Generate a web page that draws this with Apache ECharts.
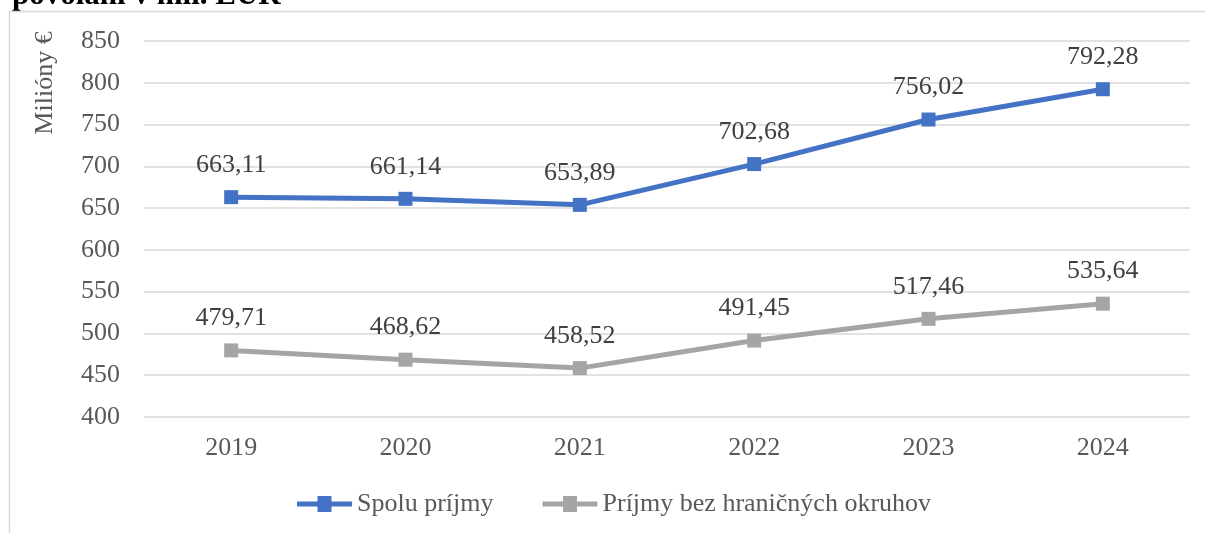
<!DOCTYPE html>
<html>
<head>
<meta charset="utf-8">
<script src="https://cdn.jsdelivr.net/npm/echarts@6/dist/echarts.min.js"></script>
<style>
  html, body { margin: 0; padding: 0; background: #fff; }
  #main { width: 1205px; height: 533px; }
</style>
</head>
<body>
<div id="main"></div>
<script>
// rozpočtové údaje
var years = ['2019', '2020', '2021', '2022', '2023', '2024'];
var spoluPrijmy = [663.11, 661.14, 653.89, 702.68, 756.02, 792.28];
var prijmyBezOkruhov = [479.71, 468.62, 458.52, 491.45, 517.46, 535.64];
var yMin = 400, yMax = 850, yStep = 50;

var serif = '"Liberation Serif", "Times New Roman", serif';
// ikona legendy: čiara so štvorcom v strede
var legendIcon = 'path://M0,5.5 H20.5 V0 H34.5 V5.5 H55 V10.5 H34.5 V16 H20.5 V10.5 H0 Z';

var myChart = echarts.init(document.getElementById('main'));

function fmt(p) {
    return p.value.toFixed(2).replace('.', ',');
}

var option = {
    animation: false,
    textStyle: { fontFamily: serif },
    grid: { top: 41, left: 144, right: 15, bottom: 116 },
    graphic: [
        {
            type: 'text', left: 12, top: -20,
            style: { text: 'povolaní v mil. EUR', font: 'bold 31px ' + serif, fill: '#000' }
        },
        {
            type: 'polyline', silent: true,
            shape: { points: [[9.5, 533], [9.5, 11.5], [1205, 11.5]] },
            style: { stroke: '#d9d9d9', lineWidth: 1.5, fill: null }
        },
        {
            type: 'text', x: 45, y: 83, rotation: Math.PI / 2,
            style: { text: 'Milióny €', font: '26px ' + serif, fill: '#595959', align: 'center', verticalAlign: 'middle' }
        }
    ],
    legend: {
        bottom: 11,
        left: 292,
        itemWidth: 55,
        itemHeight: 16,
        itemGap: 49,
        textStyle: { fontSize: 26, color: '#595959', fontFamily: serif },
        data: [
            { name: 'Spolu príjmy', icon: legendIcon },
            { name: 'Príjmy bez hraničných okruhov', icon: legendIcon }
        ]
    },
    xAxis: {
        type: 'category',
        data: years,
        axisLine: { show: false },
        axisTick: { show: false },
        axisLabel: { color: '#595959', fontSize: 26, margin: 18 }
    },
    yAxis: {
        type: 'value',
        min: yMin, max: yMax, interval: yStep,
        axisLabel: { color: '#595959', fontSize: 26, margin: 24 },
        splitLine: { lineStyle: { color: '#d9d9d9', width: 1.5 } }
    },
    series: [
        {
            name: 'Spolu príjmy',
            type: 'line',
            data: spoluPrijmy,
            symbol: 'rect', symbolSize: 14,
            lineStyle: { color: '#4472c4', width: 5 },
            itemStyle: { color: '#4472c4' },
            label: { show: true, position: 'top', distance: 12, formatter: fmt, fontSize: 26, color: '#404040' }
        },
        {
            name: 'Príjmy bez hraničných okruhov',
            type: 'line',
            data: prijmyBezOkruhov,
            symbol: 'rect', symbolSize: 14,
            lineStyle: { color: '#a5a5a5', width: 5 },
            itemStyle: { color: '#a5a5a5' },
            label: { show: true, position: 'top', distance: 12, formatter: fmt, fontSize: 26, color: '#404040' }
        }
    ]
};

myChart.setOption(option);
window.addEventListener('resize', function () { myChart.resize(); });
</script>
</body>
</html>
